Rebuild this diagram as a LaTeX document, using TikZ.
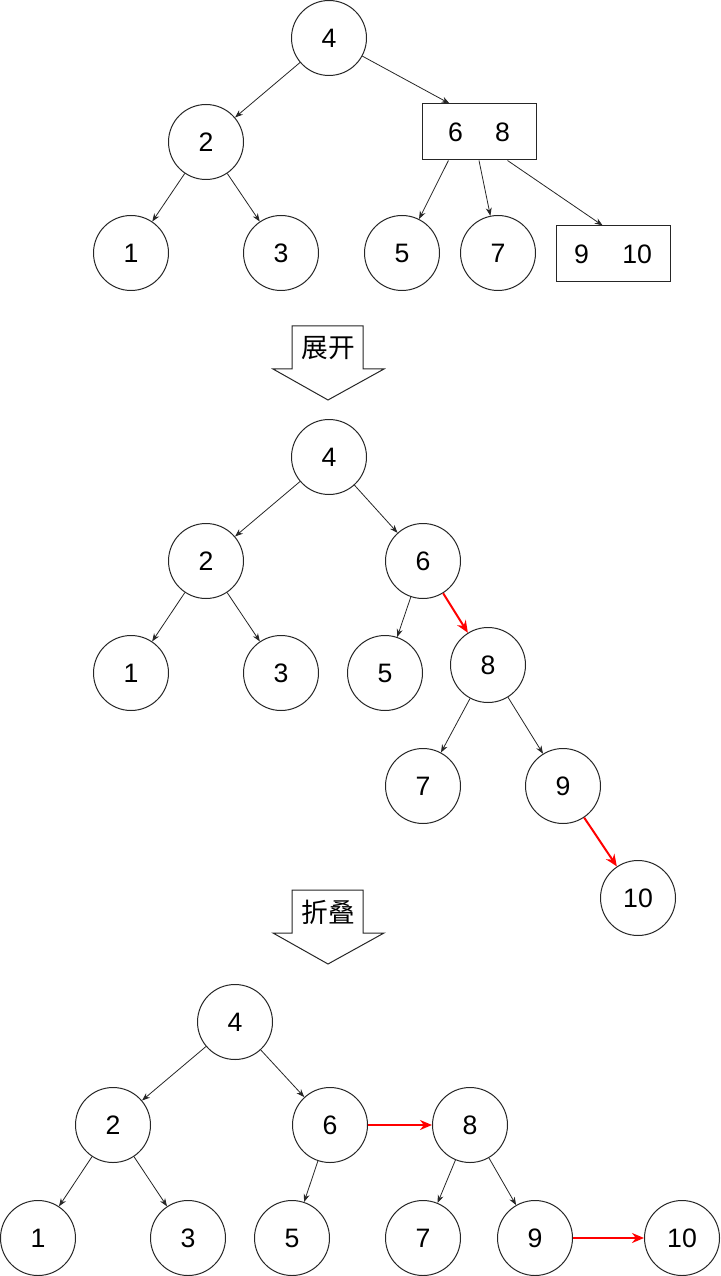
\documentclass[tikz,border=0pt]{standalone}
\usepackage{fontspec}
\setmainfont{Liberation Sans}
\newfontfamily\cjk{Noto Sans CJK SC}
\usetikzlibrary{arrows.meta}
\begin{document}
\begin{tikzpicture}[x=0.75pt,y=-0.75pt,
  tn/.style={circle,draw=black!85,line width=0.75pt,minimum size=56.25pt,inner sep=0pt,font=\fontsize{20}{24}\selectfont},
  rn/.style={rectangle,draw=black!85,line width=0.75pt,minimum width=85.5pt,minimum height=42pt,inner sep=0pt,font=\fontsize{20}{24}\selectfont},
  ed/.style={-{Stealth[length=6pt,width=4.5pt]},line width=0.6pt,draw=black!85},
  rd/.style={-{Stealth[length=9pt,width=7.5pt]},line width=1.5pt,draw=red},
  blk/.style={draw=black!85,line width=0.75pt,fill=white},
  lbl/.style={font=\cjk\fontsize{20}{22}\selectfont,inner sep=0pt}
]
\useasboundingbox (0,0) rectangle (720,1276);

% ---------- top tree ----------
\node[tn] (a4) at (329,38) {4};
\node[tn] (a2) at (206,142) {2};
\node[rn] (a68) at (479,132) {6\hspace{24pt}8};
\node[tn] (a1) at (131,253) {1};
\node[tn] (a3) at (281,253) {3};
\node[tn] (a5) at (402,253) {5};
\node[tn] (a7) at (498,253) {7};
\node[rn] (a910) at (613,254) {9\hspace{25pt}10};
\draw[ed] (a4) -- (a2);
\draw[ed] (a4) -- (a68.136);
\draw[ed] (a2) -- (a1);
\draw[ed] (a2) -- (a3);
\draw[ed] (a68.-137) -- (a5);
\draw[ed] (a68.south) -- (a7);
\draw[ed] (a68.-45) -- (a910.110);

% ---------- arrow 1 ----------
\draw[blk] (292,326) -- (363,326) -- (363,369) -- (384,369) -- (328,400) -- (273,369) -- (292,369) -- cycle;
\node[lbl] (t1) at (328,348) {展开};

% ---------- middle tree ----------
\node[tn] (b4) at (329,457) {4};
\node[tn] (b2) at (206,561) {2};
\node[tn] (b6) at (423,561) {6};
\node[tn] (b1) at (131,673) {1};
\node[tn] (b3) at (281,673) {3};
\node[tn] (b5) at (385,673) {5};
\node[tn] (b8) at (488,665) {8};
\node[tn] (b7) at (423,786) {7};
\node[tn] (b9) at (563,786) {9};
\node[tn] (b10) at (638,898) {10};
\draw[ed] (b4) -- (b2);
\draw[ed] (b4) -- (b6);
\draw[ed] (b2) -- (b1);
\draw[ed] (b2) -- (b3);
\draw[ed] (b6) -- (b5);
\draw[rd] (b6) -- (b8);
\draw[ed] (b8) -- (b7);
\draw[ed] (b8) -- (b9);
\draw[rd] (b9) -- (b10);

% ---------- arrow 2 ----------
\draw[blk] (292,890) -- (363,890) -- (363,933) -- (384,933) -- (328,964) -- (273,933) -- (292,933) -- cycle;
\node[lbl] (t2) at (328,912) {折叠};

% ---------- bottom tree ----------
\node[tn] (c4) at (235,1022) {4};
\node[tn] (c2) at (113,1125) {2};
\node[tn] (c6) at (330,1125) {6};
\node[tn] (c8) at (470,1125) {8};
\node[tn] (c1) at (38,1238) {1};
\node[tn] (c3) at (188,1238) {3};
\node[tn] (c5) at (292,1238) {5};
\node[tn] (c7) at (423,1238) {7};
\node[tn] (c9) at (535,1238) {9};
\node[tn] (c10) at (682,1238) {10};
\draw[ed] (c4) -- (c2);
\draw[ed] (c4) -- (c6);
\draw[ed] (c2) -- (c1);
\draw[ed] (c2) -- (c3);
\draw[ed] (c6) -- (c5);
\draw[rd] (c6) -- (c8);
\draw[ed] (c8) -- (c7);
\draw[ed] (c8) -- (c9);
\draw[rd] (c9) -- (c10);
\end{tikzpicture}
\end{document}
